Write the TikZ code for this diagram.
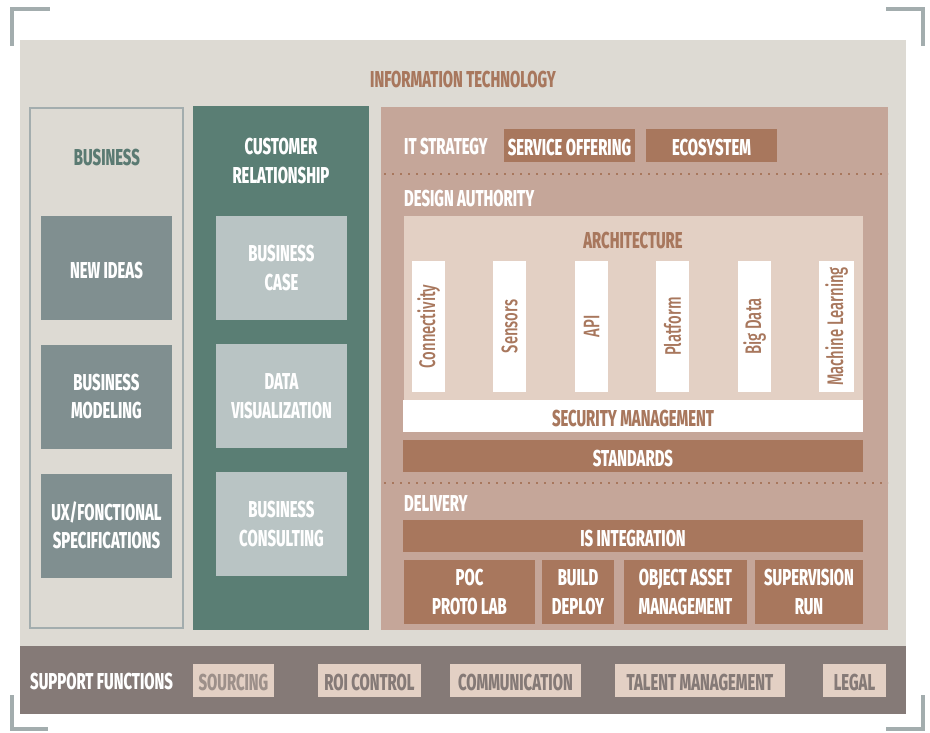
\documentclass[tikz,border=0pt]{standalone}
\usepackage{fontspec}
\setmainfont{Fira Sans}[FakeStretch=0.645, BoldFont={Fira Sans ExtraBold}]
\newfontfamily\pillarfont{Fira Sans Medium}[FakeStretch=0.66]
\usepackage{tikz}
\usetikzlibrary{positioning}

\definecolor{panelbg}{HTML}{DDDAD3}
\definecolor{corner}{HTML}{A3ADAE}
\definecolor{brick}{HTML}{A8775D}
\definecolor{sage}{HTML}{5A7A72}
\definecolor{slate}{HTML}{808F90}
\definecolor{teal}{HTML}{5A7E74}
\definecolor{mist}{HTML}{B9C4C4}
\definecolor{clay}{HTML}{C5A699}
\definecolor{sand}{HTML}{E3D0C4}
\definecolor{taupe}{HTML}{857A77}

\tikzset{
	txt/.style={font=\bfseries\fontsize{23}{28.5}\selectfont, align=center, inner sep=0pt},
	% boxes: a tall strut on the first line sets the caps a little low
	box/.style={txt, rectangle, outer sep=0pt, text=white,
		execute at begin node={\rule{0pt}{20.5pt}}},
	bizbox/.style={box, fill=slate, minimum width=131pt, minimum height=104pt},
	crmbox/.style={box, fill=mist, minimum width=131pt, minimum height=104pt},
	darkbox/.style={box, fill=brick},
	band/.style={box, minimum width=460pt, minimum height=32pt},
	pillar/.style={rectangle, fill=white, rotate=90, minimum width=131pt, minimum height=33pt,
		inner sep=0pt, text=brick, font=\pillarfont\fontsize{22.5}{26}\selectfont},
	supbox/.style={box, fill=sand, text=taupe, minimum height=33pt},
	sep/.style={brick, line width=1.6pt, dash pattern=on 1.6pt off 6.4pt},
	bracket/.style={corner, line width=4.5pt}
}

\begin{document}
\begin{tikzpicture}[x=1pt, y=-1pt]
	\useasboundingbox (0,0) rectangle (930,733);

	% corner marks
	\draw[bracket] (12,46) -- (12,9) -- (50,9);
	\draw[bracket] (886,9) -- (923,9) -- (923,46);
	\draw[bracket] (12,695) -- (12,729) -- (48,729);
	\draw[bracket] (886,729) -- (923,729) -- (923,695);

	% backgrounds
	\fill[panelbg] (20,40) rectangle (906,646);
	\fill[taupe] (20,646) rectangle (906,714);
	\draw[corner, fill=panelbg, line width=1.2pt] (30,108) rectangle (183,628);
	\fill[teal] (193,106) rectangle (369,630);
	\fill[clay] (381,107) rectangle (888,630);
	\fill[sand] (404,216) rectangle (863,400);
	\draw[sep] (384,174) -- (888,174);
	\draw[sep] (384,483) -- (888,483);

	\node at (463,80) [txt, text=brick] (it) {INFORMATION TECHNOLOGY};

	% business
	\node at (107,158) [txt, text=sage] (business) {BUSINESS};
	\node at (106.5,268) [bizbox] (ideas) {NEW IDEAS};
	\node at (106.5,396.5) [bizbox] (modeling) {BUSINESS\\MODELING};
	\node at (106.5,525.5) [bizbox] (specs) {UX/FONCTIONAL\\SPECIFICATIONS};

	% customer relationship
	\node at (281,161) [txt, text=white] (crm) {CUSTOMER\\RELATIONSHIP};
	\node at (281.5,268) [crmbox] (case) {BUSINESS\\CASE};
	\node at (281.5,396) [crmbox] (dataviz) {DATA\\VISUALIZATION};
	\node at (281.5,524) [crmbox] (consulting) {BUSINESS\\CONSULTING};

	% it strategy
	\node at (404,147) [txt, text=white, anchor=west] (strategy) {IT STRATEGY};
	\node at (569.5,145.5) [darkbox, minimum width=131pt, minimum height=33pt] (offering) {SERVICE OFFERING};
	\node at (711.5,145.5) [darkbox, minimum width=131pt, minimum height=33pt] (ecosystem) {ECOSYSTEM};

	% design authority
	\node at (404,199) [txt, text=white, anchor=west] (design) {DESIGN AUTHORITY};
	\node at (633,241) [txt, text=brick] (archi) {ARCHITECTURE};
	\node at (428.5,326.5) [pillar] (conn) {Connectivity};
	\node at (509.5,326.5) [pillar] (sensors) {Sensors};
	\node at (591.5,326.5) [pillar] (api) {API};
	\node at (672.5,326.5) [pillar] (platform) {Platform};
	\node at (754.5,326.5) [pillar] (bigdata) {Big Data};
	\node at (836.5,326.5) [pillar, minimum height=35pt] (ml) {Machine Learning};
	\node at (633,416) [band, fill=white, text=brick] (security) {SECURITY MANAGEMENT};
	\node at (633,456) [band, fill=brick] (standards) {STANDARDS};

	% delivery
	\node at (404,504) [txt, text=white, anchor=west] (delivery) {DELIVERY};
	\node at (633,536) [band, fill=brick] (integration) {IS INTEGRATION};
	\node at (469.5,592) [darkbox, minimum width=131pt, minimum height=64pt] (poc) {POC\\PROTO LAB};
	\node at (578,592) [darkbox, minimum width=72pt, minimum height=64pt] (build) {BUILD\\DEPLOY};
	\node at (685.5,592) [darkbox, minimum width=123pt, minimum height=64pt] (asset) {OBJECT ASSET\\MANAGEMENT};
	\node at (809,592) [darkbox, minimum width=108pt, minimum height=64pt] (run) {SUPERVISION\\RUN};

	% support functions
	\node at (30,682) [txt, text=white, anchor=west] (support) {SUPPORT FUNCTIONS};
	\node at (233.5,680.5) [supbox, minimum width=81pt, text=taupe!75!sand] (sourcing) {SOURCING};
	\node at (369.5,680.5) [supbox, minimum width=103pt] (roi) {ROI CONTROL};
	\node at (515.5,680.5) [supbox, minimum width=131pt] (comm) {COMMUNICATION};
	\node at (700,680.5) [supbox, minimum width=170pt] (talent) {TALENT MANAGEMENT};
	\node at (854.5,680.5) [supbox, minimum width=63pt] (legal) {LEGAL};
\end{tikzpicture}
\end{document}
